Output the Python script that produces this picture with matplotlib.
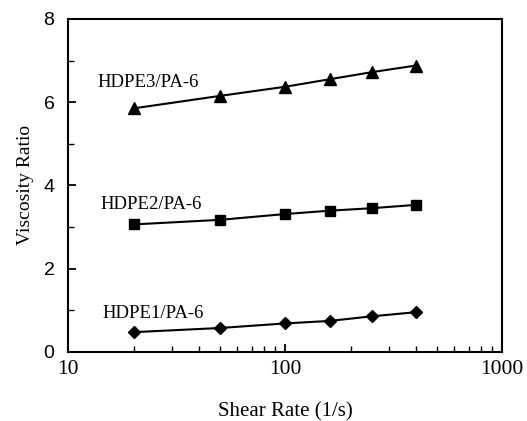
import matplotlib
matplotlib.use("Agg")
import matplotlib.pyplot as plt
from matplotlib.ticker import LogLocator, FixedLocator, NullFormatter

shear_rate = [20, 50, 100, 160, 250, 400]
hdpe1 = [0.47, 0.57, 0.68, 0.74, 0.85, 0.95]
hdpe2 = [3.06, 3.17, 3.31, 3.39, 3.45, 3.53]
hdpe3 = [5.85, 6.15, 6.37, 6.55, 6.72, 6.88]
series_labels = ["HDPE1/PA-6", "HDPE2/PA-6", "HDPE3/PA-6"]
label_pos = [(14.3, 0.93), (14.0, 3.55), (13.56, 6.48)]

fig = plt.figure(figsize=(5.27, 4.21), dpi=100)
ax = fig.add_axes([0.1296, 0.1646, 0.8235, 0.7904])

serif = "Liberation Serif"
sans = "Liberation Sans"

ax.plot(shear_rate, hdpe1, color="black", lw=1.5, marker="D", ms=6.5)
ax.plot(shear_rate, hdpe2, color="black", lw=1.5, marker="s", ms=7)
ax.plot(shear_rate, hdpe3, color="black", lw=1.5, marker="^", ms=8.5)

for lab, (x, y) in zip(series_labels, label_pos):
    ax.text(x, y, lab, family=serif, fontsize=13.5, ha="left", va="center")

ax.set_xscale("log")
ax.set_xlim(10, 1000)
ax.set_ylim(0, 8)
ax.set_yticks([0, 2, 4, 6, 8])
ax.yaxis.set_minor_locator(FixedLocator([1, 3, 5, 7]))
ax.set_xticks([10, 100, 1000])
ax.set_xticklabels(["10", "100", "1000"])
ax.xaxis.set_minor_locator(LogLocator(base=10, subs=range(2, 10)))
ax.xaxis.set_minor_formatter(NullFormatter())

ax.tick_params(axis="both", which="major", direction="in", length=6, width=1.3, color="black")
ax.tick_params(axis="both", which="minor", direction="in", length=4, width=1.0, color="black")
ax.tick_params(axis="y", which="both", right=False)
ax.tick_params(axis="x", which="both", top=False)

for lab in ax.get_yticklabels():
    lab.set_family(sans)
    lab.set_fontsize(14)
for lab in ax.get_xticklabels():
    lab.set_family(serif)
    lab.set_fontsize(15.5)
ax.tick_params(axis="x", pad=6)
ax.tick_params(axis="y", pad=10)

for s in ax.spines.values():
    s.set_linewidth(1.5)

ax.set_xlabel("Shear Rate (1/s)", family=serif, fontsize=15, labelpad=17)
ax.set_ylabel("Viscosity Ratio", family=serif, fontsize=14, labelpad=7)

fig.savefig("out.png", dpi=100)
